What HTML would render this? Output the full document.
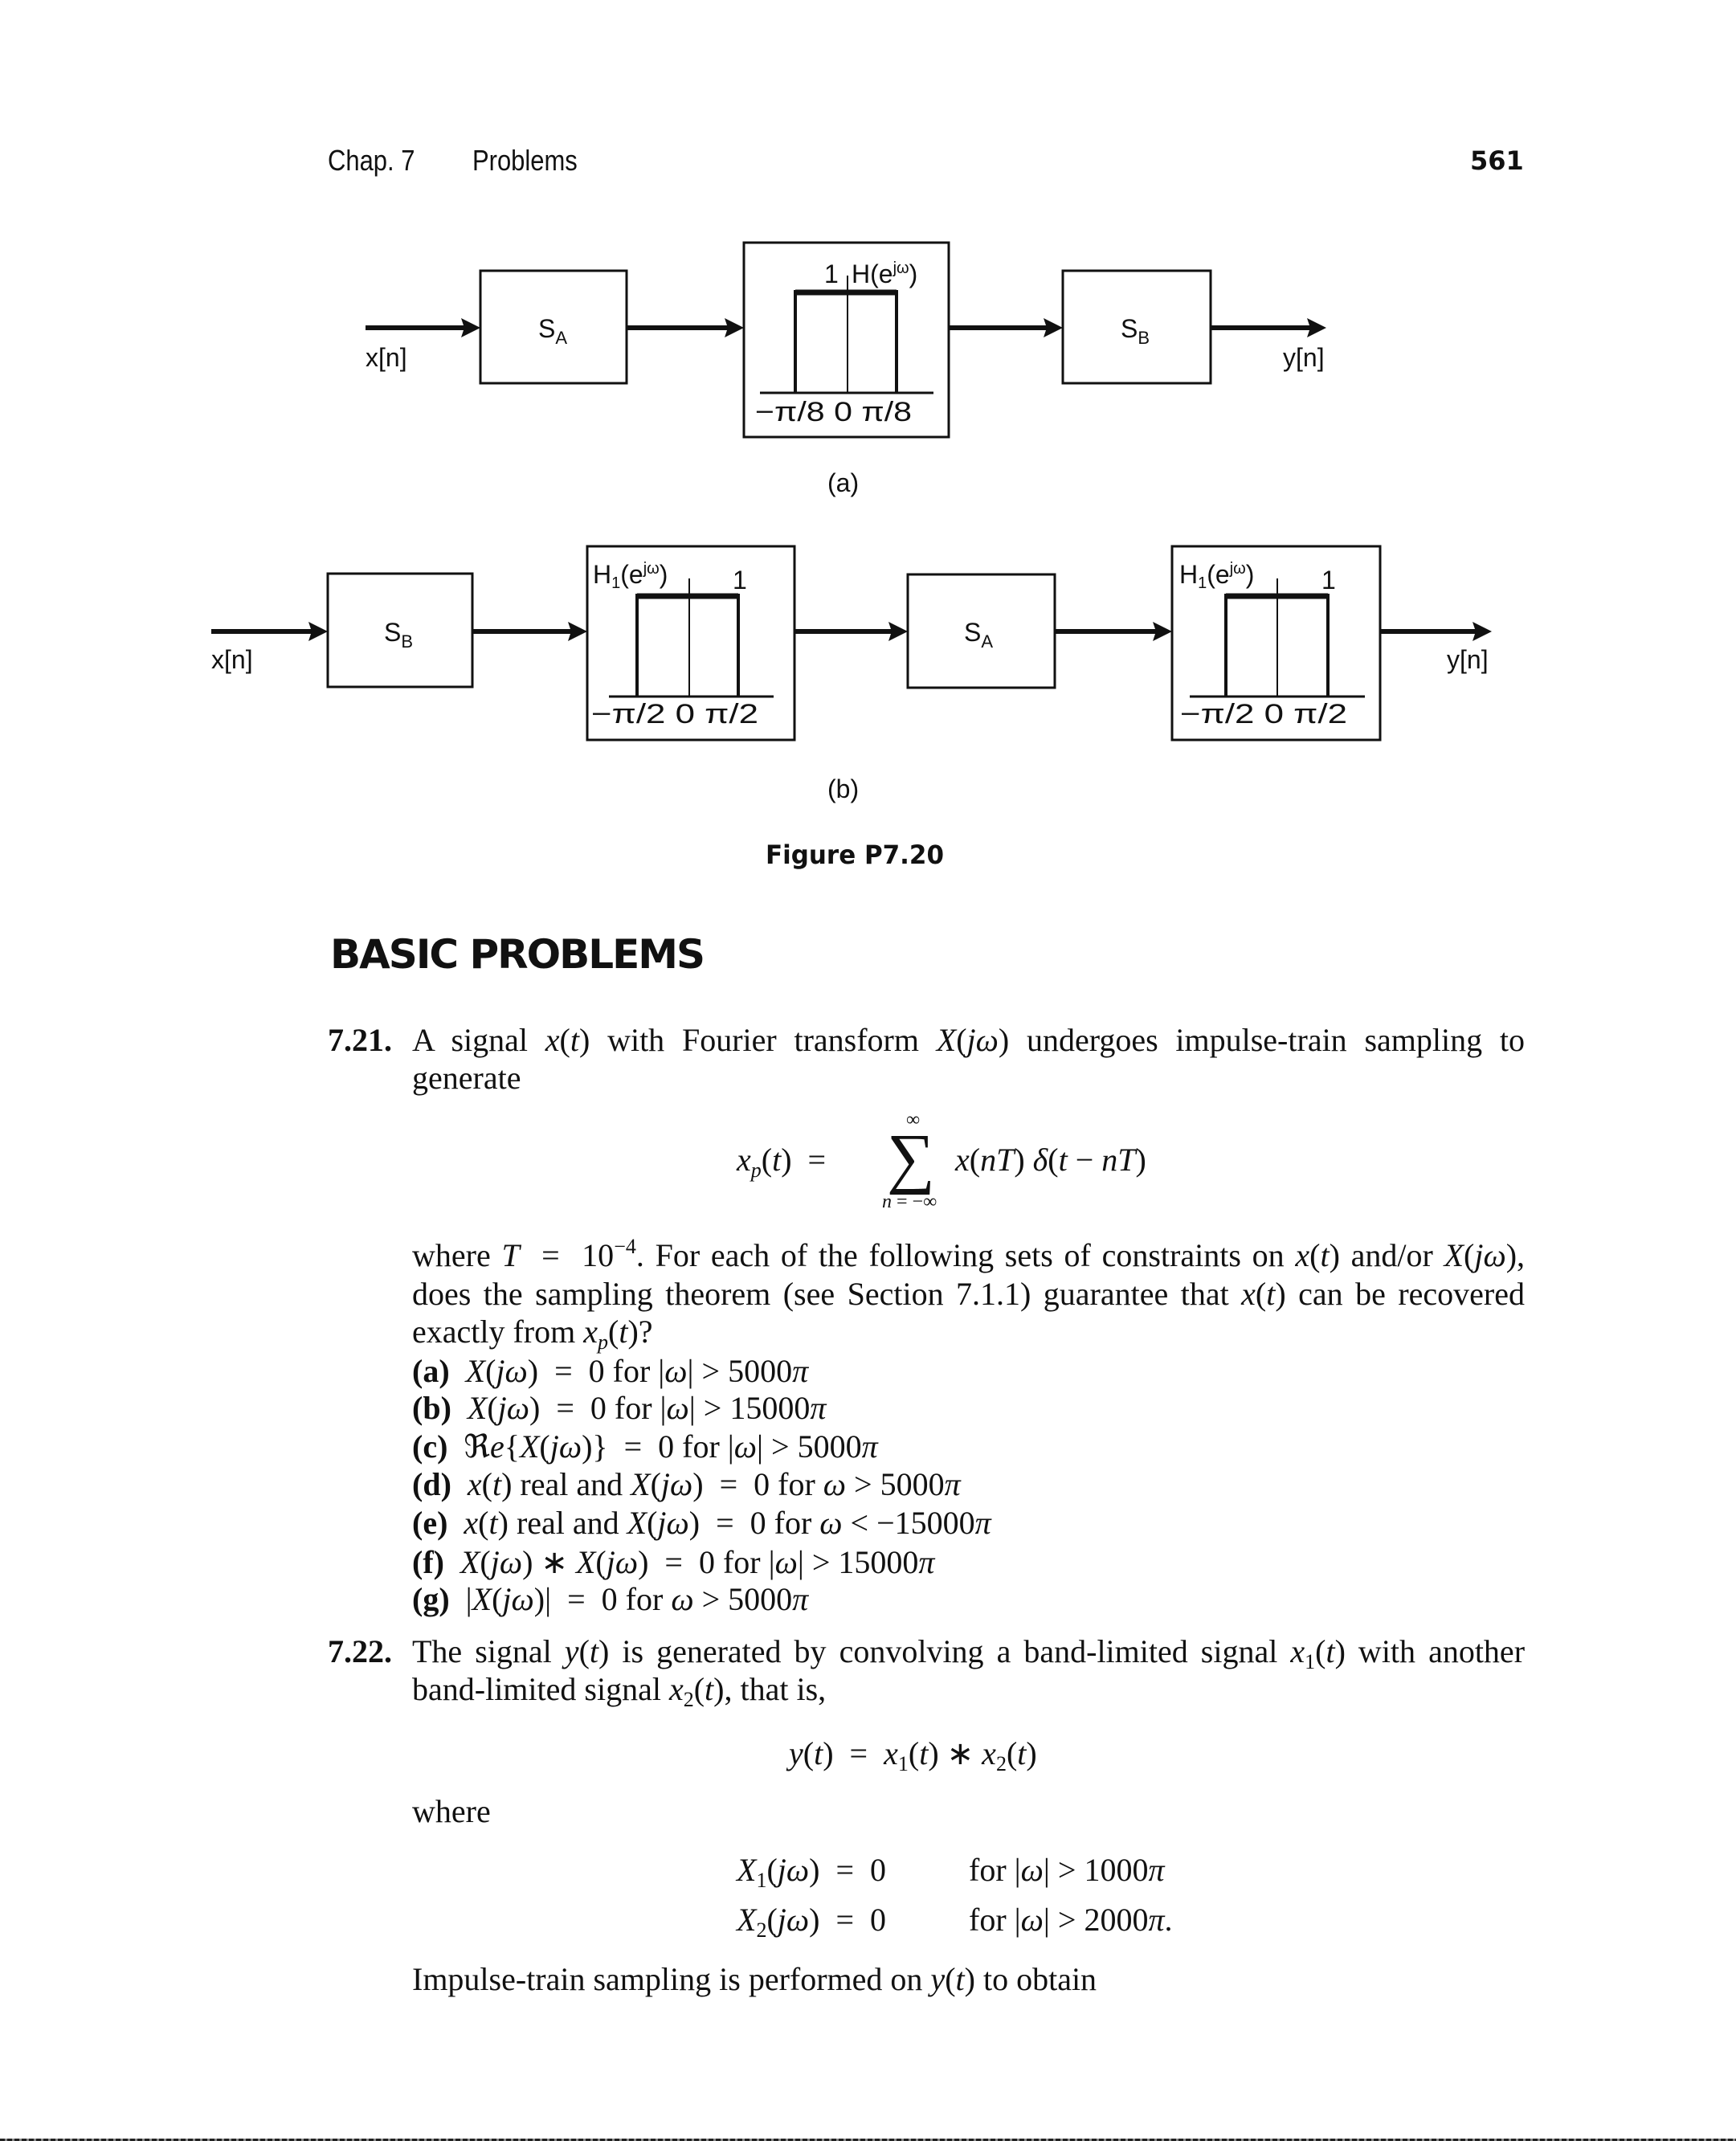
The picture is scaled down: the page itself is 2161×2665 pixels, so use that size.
<!DOCTYPE html>
<html><head><meta charset="utf-8">
<style>
html,body{margin:0;padding:0;background:#fff;}
#pg{position:relative;width:2161px;height:2665px;overflow:hidden;background:#fff;color:#111;}
.t{position:absolute;font-family:"Liberation Serif",serif;font-size:40px;line-height:48px;white-space:nowrap;}
.j{text-align:justify;text-align-last:justify;white-space:normal;}
i{font-style:italic;}
b{font-weight:bold;}
sub{font-size:26px;vertical-align:-8px;line-height:0;}
sup{font-size:26px;vertical-align:16px;line-height:0;}
.h{position:absolute;font-family:"Liberation Sans Narrow","Liberation Sans",sans-serif;font-size:36px;line-height:40px;white-space:nowrap;transform-origin:0 0;transform:scaleX(0.86);}
</style></head><body><div id="pg">

<div class="h" style="left:408px;top:180px;">Chap. 7</div>
<div class="h" style="left:588px;top:180px;">Problems</div>
<div class="h" style="left:1830px;top:180px;font-family:'DejaVu Sans','Liberation Sans',sans-serif;font-weight:bold;font-size:32px;transform:none;">561</div>

<svg style="position:absolute;left:0;top:0" width="2161" height="1100" viewBox="0 0 2161 1100">
<g fill="none" stroke="#111" stroke-width="3">
<rect x="598" y="337" width="182" height="140"/>
<rect x="926" y="302" width="255" height="242"/>
<rect x="1323" y="337" width="184" height="140"/>
<rect x="408" y="714" width="180" height="141"/>
<rect x="731" y="680" width="258" height="241"/>
<rect x="1130" y="715" width="183" height="141"/>
<rect x="1459" y="680" width="259" height="241"/>
</g>
<g fill="none" stroke="#111">
<path d="M990 489 V363 H1116 V489" stroke-width="4"/>
<line x1="990" y1="364" x2="1116" y2="364" stroke-width="7"/>
<line x1="946" y1="489" x2="1162" y2="489" stroke-width="3"/>
<line x1="1055" y1="343" x2="1055" y2="489" stroke-width="2"/>
<path d="M793 867 V741 H919 V867" stroke-width="4"/>
<line x1="793" y1="742" x2="919" y2="742" stroke-width="7"/>
<line x1="758" y1="867" x2="963" y2="867" stroke-width="3"/>
<line x1="858" y1="720" x2="858" y2="867" stroke-width="2"/>
<path d="M1526 867 V741 H1653 V867" stroke-width="4"/>
<line x1="1526" y1="742" x2="1653" y2="742" stroke-width="7"/>
<line x1="1481" y1="867" x2="1699" y2="867" stroke-width="3"/>
<line x1="1590" y1="720" x2="1590" y2="867" stroke-width="2"/>
</g>
<g stroke="#111" stroke-width="6">
<line x1="455" y1="408" x2="580" y2="408"/>
<line x1="780" y1="408" x2="908" y2="408"/>
<line x1="1181" y1="408" x2="1305" y2="408"/>
<line x1="1507" y1="408" x2="1633" y2="408"/>
<line x1="263" y1="786" x2="390" y2="786"/>
<line x1="588" y1="786" x2="713" y2="786"/>
<line x1="989" y1="786" x2="1112" y2="786"/>
<line x1="1313" y1="786" x2="1441" y2="786"/>
<line x1="1718" y1="786" x2="1839" y2="786"/>
</g>
<g fill="#111">
<polygon points="598,408 574,396 578,408 574,420"/>
<polygon points="926,408 902,396 906,408 902,420"/>
<polygon points="1323,408 1299,396 1303,408 1299,420"/>
<polygon points="1651,408 1627,396 1631,408 1627,420"/>
<polygon points="408,786 384,774 388,786 384,798"/>
<polygon points="731,786 707,774 711,786 707,798"/>
<polygon points="1130,786 1106,774 1110,786 1106,798"/>
<polygon points="1459,786 1435,774 1439,786 1435,798"/>
<polygon points="1857,786 1833,774 1837,786 1833,798"/>
</g>
<g font-family="Liberation Sans, sans-serif" font-size="32" fill="#111">
<text x="455" y="456">x[n]</text>
<text x="1597" y="456">y[n]</text>
<text x="670" y="420">S<tspan font-size="22" dy="8">A</tspan></text>
<text x="1395" y="420">S<tspan font-size="22" dy="8">B</tspan></text>
<text x="1026" y="352">1</text>
<text x="1060" y="352">H(e<tspan font-size="20" dy="-12">jω</tspan><tspan dy="12">)</tspan></text>
<text x="940" y="524" font-size="34" textLength="195" lengthAdjust="spacingAndGlyphs">−π/8 0 π/8</text>
<text x="1030" y="612">(a)</text>
<text x="263" y="832">x[n]</text>
<text x="1801" y="832">y[n]</text>
<text x="478" y="798">S<tspan font-size="22" dy="8">B</tspan></text>
<text x="1200" y="798">S<tspan font-size="22" dy="8">A</tspan></text>
<text x="738" y="726">H<tspan font-size="20" dy="6">1</tspan><tspan dy="-6">(e</tspan><tspan font-size="20" dy="-12">jω</tspan><tspan dy="12">)</tspan></text>
<text x="912" y="733">1</text>
<text x="736" y="900" font-size="34" textLength="208" lengthAdjust="spacingAndGlyphs">−π/2 0 π/2</text>
<text x="1468" y="726">H<tspan font-size="20" dy="6">1</tspan><tspan dy="-6">(e</tspan><tspan font-size="20" dy="-12">jω</tspan><tspan dy="12">)</tspan></text>
<text x="1645" y="733">1</text>
<text x="1469" y="900" font-size="34" textLength="208" lengthAdjust="spacingAndGlyphs">−π/2 0 π/2</text>
<text x="1030" y="993">(b)</text>
</g>
<text x="953" y="1075" font-family="DejaVu Sans, Liberation Sans, sans-serif" font-size="32" font-weight="bold" fill="#111" textLength="222" lengthAdjust="spacingAndGlyphs">Figure P7.20</text>
</svg>

<div class="t" style="left:411px;top:1160px;font-family:'DejaVu Sans','Liberation Sans',sans-serif;font-weight:bold;font-size:50px;line-height:56px;letter-spacing:-2px;">BASIC PROBLEMS</div>

<div class="t" style="left:408px;top:1271px;"><b>7.21.</b></div>
<div class="t j" style="left:513px;top:1271px;width:1385px;">A signal <i>x</i>(<i>t</i>) with Fourier transform <i>X</i>(<i>jω</i>) undergoes impulse-train sampling to</div>
<div class="t" style="left:513px;top:1318px;">generate</div>

<div class="t" style="left:917px;top:1420px;"><i>x<sub>p</sub></i>(<i>t</i>) &#160;=</div>
<div class="t" style="left:1104px;top:1400px;font-size:84px;line-height:84px;">∑</div>
<div class="t" style="left:1128px;top:1380px;font-size:24px;line-height:28px;">∞</div>
<div class="t" style="left:1098px;top:1482px;font-size:24px;line-height:28px;"><i>n</i> = −∞</div>
<div class="t" style="left:1189px;top:1420px;"><i>x</i>(<i>nT</i>) <i>δ</i>(<i>t</i> − <i>nT</i>)</div>

<div class="t j" style="left:513px;top:1539px;width:1385px;">where <i>T</i> &#160;= &#160;10<sup>−4</sup>. For each of the following sets of constraints on <i>x</i>(<i>t</i>) and/or <i>X</i>(<i>jω</i>),</div>
<div class="t j" style="left:513px;top:1587px;width:1385px;">does the sampling theorem (see Section 7.1.1) guarantee that <i>x</i>(<i>t</i>) can be recovered</div>
<div class="t" style="left:513px;top:1634px;">exactly from <i>x<sub>p</sub></i>(<i>t</i>)?</div>
<div class="t" style="left:513px;top:1683px;"><b>(a)</b>&#160; <i>X</i>(<i>jω</i>) &#160;= &#160;0 for |<i>ω</i>| &gt; 5000<i>π</i></div>
<div class="t" style="left:513px;top:1729px;"><b>(b)</b>&#160; <i>X</i>(<i>jω</i>) &#160;= &#160;0 for |<i>ω</i>| &gt; 15000<i>π</i></div>
<div class="t" style="left:513px;top:1777px;"><b>(c)</b>&#160; ℜ<i>e</i>{<i>X</i>(<i>jω</i>)} &#160;= &#160;0 for |<i>ω</i>| &gt; 5000<i>π</i></div>
<div class="t" style="left:513px;top:1824px;"><b>(d)</b>&#160; <i>x</i>(<i>t</i>) real and <i>X</i>(<i>jω</i>) &#160;= &#160;0 for <i>ω</i> &gt; 5000<i>π</i></div>
<div class="t" style="left:513px;top:1872px;"><b>(e)</b>&#160; <i>x</i>(<i>t</i>) real and <i>X</i>(<i>jω</i>) &#160;= &#160;0 for <i>ω</i> &lt; −15000<i>π</i></div>
<div class="t" style="left:513px;top:1921px;"><b>(f)</b>&#160; <i>X</i>(<i>jω</i>) ∗ <i>X</i>(<i>jω</i>) &#160;= &#160;0 for |<i>ω</i>| &gt; 15000<i>π</i></div>
<div class="t" style="left:513px;top:1967px;"><b>(g)</b>&#160; |<i>X</i>(<i>jω</i>)| &#160;= &#160;0 for <i>ω</i> &gt; 5000<i>π</i></div>

<div class="t" style="left:408px;top:2032px;"><b>7.22.</b></div>
<div class="t j" style="left:513px;top:2032px;width:1385px;">The signal <i>y</i>(<i>t</i>) is generated by convolving a band-limited signal <i>x</i><sub>1</sub>(<i>t</i>) with another</div>
<div class="t" style="left:513px;top:2079px;">band-limited signal <i>x</i><sub>2</sub>(<i>t</i>), that is,</div>
<div class="t" style="left:982px;top:2159px;"><i>y</i>(<i>t</i>) &#160;= &#160;<i>x</i><sub>1</sub>(<i>t</i>) ∗ <i>x</i><sub>2</sub>(<i>t</i>)</div>
<div class="t" style="left:513px;top:2231px;">where</div>
<div class="t" style="left:917px;top:2304px;"><i>X</i><sub>1</sub>(<i>jω</i>) &#160;= &#160;0</div>
<div class="t" style="left:1206px;top:2304px;">for |<i>ω</i>| &gt; 1000<i>π</i></div>
<div class="t" style="left:917px;top:2366px;"><i>X</i><sub>2</sub>(<i>jω</i>) &#160;= &#160;0</div>
<div class="t" style="left:1206px;top:2366px;">for |<i>ω</i>| &gt; 2000<i>π</i>.</div>
<div class="t" style="left:513px;top:2440px;">Impulse-train sampling is performed on <i>y</i>(<i>t</i>) to obtain</div>

<div style="position:absolute;left:0;top:2662px;width:2161px;height:3px;background:repeating-linear-gradient(90deg,#222 0 6px,#888 6px 9px);"></div>
</div></body></html>
